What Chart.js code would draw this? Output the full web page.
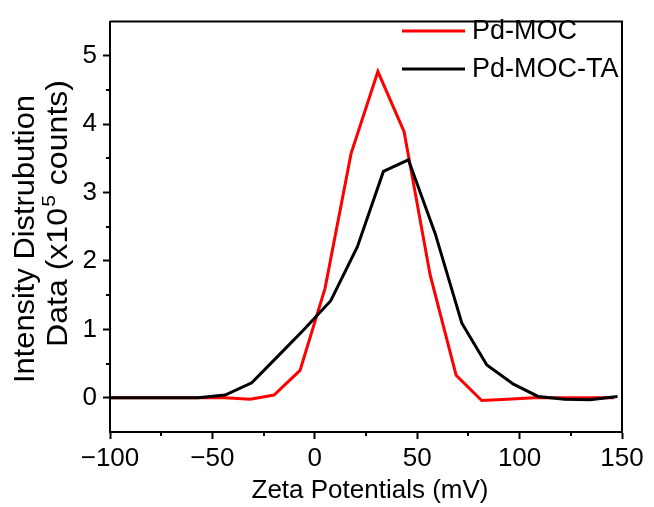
<!DOCTYPE html>
<html>
<head>
<meta charset="utf-8">
<script src="https://cdn.jsdelivr.net/npm/chart.js@4.4.1/dist/chart.umd.min.js"></script>
<style>
  html, body { margin: 0; padding: 0; background: #ffffff; }
  #wrap { width: 654px; height: 507px; position: relative; }
</style>
</head>
<body>
<div id="wrap"><canvas id="c" width="654" height="507"></canvas></div>
<script>
// ---- data ----
const seriesNames = ['Pd-MOC', 'Pd-MOC-TA'];
const pdMocX = [-100, -57, -44, -31.6, -19.9, -7.2, 5.0, 17.7, 30.8, 43.6, 56.3, 69.0, 81.5, 94, 107, 120, 133, 146];
const pdMocY = [0, 0, 0, -0.02, 0.04, 0.40, 1.60, 3.57, 4.77, 3.89, 1.80, 0.33, -0.04, -0.02, 0.0, 0.0, 0.0, 0.0];
const pdMocTaX = [-100, -57, -43.8, -30.8, -18, -5.5, 7.8, 20.8, 33.5, 45.7, 58.8, 71.8, 84, 97, 109, 122, 134.4, 147.8];
const pdMocTaY = [0, 0, 0.04, 0.22, 0.61, 0.99, 1.42, 2.21, 3.31, 3.48, 2.40, 1.09, 0.48, 0.20, 0.02, -0.02, -0.03, 0.02];
const xTicks = [-100, -50, 0, 50, 100, 150];
const xMinorTicks = [-75, -25, 25, 75, 125];
const yTicks = [0, 1, 2, 3, 4, 5];
const yMinorTicks = [0.5, 1.5, 2.5, 3.5, 4.5];
const xTitle = 'Zeta Potentials (mV)';
const yTitleLine1 = 'Intensity Distrubution';
const yTitleLine2 = ['Data (x10', '5', ' counts)'];

const FONT = '"Liberation Sans", Arial, sans-serif';
const FS = 26;
const YFS = 29;

const toPts = (xs, ys) => xs.map((x, i) => ({ x: x, y: ys[i] }));

const decor = {
  id: 'decor',
  afterDraw(chart) {
    const ctx = chart.ctx;
    const a = chart.chartArea;
    const xs = chart.scales.x, ys = chart.scales.y;
    ctx.save();
    // frame top and right
    ctx.strokeStyle = '#000';
    ctx.lineWidth = 2;
    ctx.beginPath();
    ctx.moveTo(a.left, a.top); ctx.lineTo(a.right, a.top); ctx.lineTo(a.right, a.bottom);
    ctx.stroke();
    // minor ticks
    ctx.beginPath();
    xMinorTicks.forEach(v => {
      const px = Math.round(xs.getPixelForValue(v));
      ctx.moveTo(px, a.bottom); ctx.lineTo(px, a.bottom + 4);
    });
    yMinorTicks.forEach(v => {
      const py = Math.round(ys.getPixelForValue(v));
      ctx.moveTo(a.left, py); ctx.lineTo(a.left - 4, py);
    });
    ctx.stroke();

    ctx.fillStyle = '#000';
    // x title
    ctx.font = FS + 'px ' + FONT;
    ctx.textAlign = 'center';
    ctx.textBaseline = 'alphabetic';
    ctx.fillText(xTitle, (a.left + a.right) / 2 + 4, 498);

    // y title line 1 (rotated), stretched to the span measured in the reference
    ctx.save();
    ctx.font = YFS + 'px ' + FONT;
    ctx.textAlign = 'left';
    const w1 = ctx.measureText(yTitleLine1).width;
    ctx.translate(34, 383);
    ctx.rotate(-Math.PI / 2);
    ctx.scale(288 / w1, 1);
    ctx.fillText(yTitleLine1, 0, 0);
    ctx.restore();

    // y title line 2 with superscript
    ctx.save();
    ctx.textAlign = 'left';
    const supFS = Math.round(YFS * 0.66);
    ctx.font = YFS + 'px ' + FONT;
    const wa = ctx.measureText(yTitleLine2[0]).width;
    const wc = ctx.measureText(yTitleLine2[2]).width;
    ctx.font = supFS + 'px ' + FONT;
    const wb = ctx.measureText(yTitleLine2[1]).width + 2;
    const w2 = wa + wb + wc;
    ctx.translate(67, 347);
    ctx.rotate(-Math.PI / 2);
    ctx.scale(267 / w2, 1);
    ctx.font = YFS + 'px ' + FONT;
    ctx.fillText(yTitleLine2[0], 0, 0);
    ctx.font = supFS + 'px ' + FONT;
    ctx.fillText(yTitleLine2[1], wa + 1, -YFS * 0.4);
    ctx.font = YFS + 'px ' + FONT;
    ctx.fillText(yTitleLine2[2], wa + wb, 0);
    ctx.restore();

    // legend
    const items = chart.data.datasets;
    const legY = [31, 69];
    [0, 1].forEach((di, k) => {
      const ds = items[di];
      ctx.strokeStyle = ds.borderColor;
      ctx.lineWidth = 3;
      ctx.beginPath();
      ctx.moveTo(402, legY[k]); ctx.lineTo(465, legY[k]);
      ctx.stroke();
      ctx.font = '27px ' + FONT;
      ctx.textAlign = 'left';
      ctx.textBaseline = 'middle';
      ctx.fillStyle = '#000';
      ctx.fillText(ds.label, 472, legY[k] + 1);
    });
    ctx.restore();
  }
};

new Chart(document.getElementById('c'), {
  type: 'line',
  data: {
    datasets: [
      { label: seriesNames[0], data: toPts(pdMocX, pdMocY), borderColor: '#ff0000', backgroundColor: '#ff0000', borderWidth: 3, pointRadius: 0, tension: 0, order: 1 },
      { label: seriesNames[1], data: toPts(pdMocTaX, pdMocTaY), borderColor: '#000000', backgroundColor: '#000000', borderWidth: 3, pointRadius: 0, tension: 0, order: 0 }
    ]
  },
  options: {
    responsive: false,
    animation: false,
    events: [],
    layout: { padding: { top: 15, right: 32, left: 0, bottom: 0 } },
    plugins: { legend: { display: false }, tooltip: { enabled: false } },
    scales: {
      x: {
        type: 'linear', min: -100, max: 150,
        afterBuildTicks: s => { s.ticks = xTicks.map(v => ({ value: v })); },
        afterFit: s => { s.height = 75; },
        ticks: {
          color: '#000', font: { family: FONT, size: FS }, padding: 4, maxRotation: 0, autoSkip: false,
          callback: v => (v < 0 ? '\u2212' + Math.abs(v) : String(v))
        },
        grid: { drawOnChartArea: false, drawTicks: true, tickLength: 7, tickWidth: 2, tickColor: '#000' },
        border: { display: true, color: '#000', width: 2 }
      },
      y: {
        type: 'linear', min: -0.5, max: 5.5,
        afterBuildTicks: s => { s.ticks = yTicks.map(v => ({ value: v })); },
        afterFit: s => { s.width = 110; },
        ticks: { color: '#000', font: { family: FONT, size: FS }, padding: 6, autoSkip: false },
        grid: { drawOnChartArea: false, drawTicks: true, tickLength: 7, tickWidth: 2, tickColor: '#000' },
        border: { display: true, color: '#000', width: 2 }
      }
    }
  },
  plugins: [decor]
});
</script>
</body>
</html>
